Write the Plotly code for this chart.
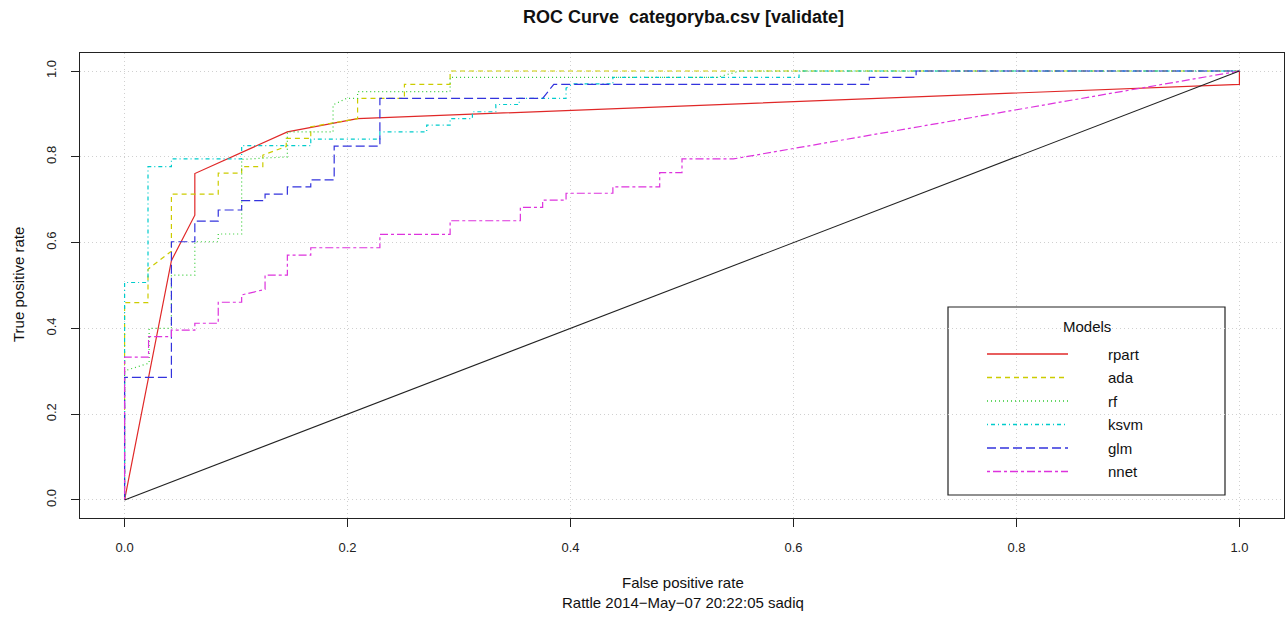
import plotly.graph_objects as go

# ---------------- data ----------------
models = ["rpart", "ada", "rf", "ksvm", "glm", "nnet"]
colors = ["#E02828", "#CCCC00", "#33CC33", "#00CCCC", "#3333DD", "#DD33DD"]
dashes = ["solid", "5px,4px", "1px,3px", "1px,3px,4px,3px", "9px,4px", "3px,3px,8px,3px"]

rpart_fpr = [0, 0.042, 0.063, 0.063, 0.146, 0.209, 1.0, 1.0]
rpart_tpr = [0, 0.558, 0.664, 0.761, 0.858, 0.889, 0.969, 1.0]

ada_fpr = [0, 0, 0.021, 0.021, 0.042, 0.042, 0.084, 0.084, 0.105, 0.105, 0.124, 0.124,
           0.145, 0.145, 0.167, 0.167, 0.209, 0.209, 0.251, 0.251, 0.292, 0.292, 1.0]
ada_tpr = [0, 0.46, 0.46, 0.538, 0.58, 0.713, 0.713, 0.762, 0.762, 0.777, 0.777, 0.804,
           0.824, 0.843, 0.843, 0.870, 0.889, 0.936, 0.936, 0.969, 0.969, 1.0, 1.0]

rf_fpr = [0, 0, 0.022, 0.022, 0.042, 0.042, 0.063, 0.063, 0.084, 0.084, 0.105, 0.105,
          0.146, 0.146, 0.187, 0.187, 0.199, 0.209, 0.209, 0.292, 0.292, 0.531, 0.552, 1.0]
rf_tpr = [0, 0.301, 0.319, 0.40, 0.40, 0.524, 0.524, 0.602, 0.602, 0.62, 0.62, 0.794,
          0.80, 0.858, 0.858, 0.921, 0.936, 0.936, 0.952, 0.952, 0.985, 0.985, 1.0, 1.0]

ksvm_fpr = [0, 0, 0.021, 0.021, 0.042, 0.042, 0.105, 0.105, 0.167, 0.167, 0.229, 0.229,
            0.271, 0.271, 0.292, 0.292, 0.312, 0.312, 0.333, 0.333, 0.354, 0.354, 0.396,
            0.396, 0.402, 0.438, 0.438, 0.605, 0.605, 1.0]
ksvm_tpr = [0, 0.507, 0.507, 0.777, 0.777, 0.795, 0.795, 0.826, 0.826, 0.841, 0.841, 0.858,
            0.858, 0.874, 0.874, 0.889, 0.889, 0.905, 0.905, 0.922, 0.922, 0.936, 0.936,
            0.96, 0.970, 0.970, 0.985, 0.985, 1.0, 1.0]

glm_fpr = [0, 0, 0.042, 0.042, 0.063, 0.063, 0.084, 0.084, 0.105, 0.105, 0.126, 0.126,
           0.146, 0.146, 0.167, 0.167, 0.188, 0.188, 0.229, 0.229, 0.375, 0.385, 0.668,
           0.668, 0.71, 0.71, 1.0]
glm_tpr = [0, 0.286, 0.286, 0.602, 0.602, 0.65, 0.65, 0.676, 0.676, 0.698, 0.698, 0.713,
           0.713, 0.730, 0.730, 0.746, 0.746, 0.825, 0.825, 0.936, 0.936, 0.969, 0.969,
           0.985, 0.985, 1.0, 1.0]

nnet_fpr = [0, 0, 0.0215, 0.0215, 0.042, 0.042, 0.063, 0.063, 0.084, 0.084, 0.105, 0.105,
            0.126, 0.126, 0.146, 0.146, 0.167, 0.167, 0.229, 0.229, 0.292, 0.292, 0.355,
            0.355, 0.375, 0.375, 0.396, 0.396, 0.438, 0.438, 0.48, 0.48, 0.5, 0.5, 0.546, 1.0]
nnet_tpr = [0, 0.333, 0.333, 0.381, 0.381, 0.396, 0.396, 0.412, 0.412, 0.461, 0.461, 0.478,
            0.491, 0.524, 0.524, 0.571, 0.571, 0.588, 0.588, 0.619, 0.619, 0.651, 0.651,
            0.682, 0.682, 0.699, 0.699, 0.715, 0.715, 0.730, 0.730, 0.763, 0.763, 0.795,
            0.795, 1.0]

diag_fpr = [0, 1]
diag_tpr = [0, 1]

tick_vals = [0.0, 0.2, 0.4, 0.6, 0.8, 1.0]
tick_text = ["0.0", "0.2", "0.4", "0.6", "0.8", "1.0"]

title_text = "ROC Curve  categoryba.csv [validate]"
x_title = "False positive rate"
sub_title = "Rattle 2014\u2212May\u221207 20:22:05 sadiq"
y_title = "True positive rate"
legend_title = "Models"

series = [(rpart_fpr, rpart_tpr), (ada_fpr, ada_tpr), (rf_fpr, rf_tpr),
          (ksvm_fpr, ksvm_tpr), (glm_fpr, glm_tpr), (nnet_fpr, nnet_tpr)]

# ---------------- figure ----------------
W, H = 1287, 618
L, R, T, B = 80, 1284, 53, 518
XR = [-0.04, 1.04]
YR = [-0.042, 1.042]
FONT = "Liberation Sans, Arial, sans-serif"


def px(xp):
    return (xp - L) / (R - L)


def py(yp):
    return (B - yp) / (B - T)


def dx(xp):
    return XR[0] + px(xp) * (XR[1] - XR[0])


def dy(yp):
    return YR[0] + py(yp) * (YR[1] - YR[0])


fig = go.Figure()
for name, col, dsh, (xs, ys) in zip(models, colors, dashes, series):
    fig.add_trace(go.Scatter(x=xs, y=ys, mode="lines", name=name,
                             line=dict(color=col, width=1.2, dash=dsh),
                             showlegend=False, hoverinfo="x+y+name"))
fig.add_trace(go.Scatter(x=diag_fpr, y=diag_tpr, mode="lines", showlegend=False,
                         line=dict(color="#222222", width=1.1), hoverinfo="skip"))

# legend samples (R-style legend drawn inside the plot)
row_y = [354, 377.5, 401, 424.5, 448, 471.5]
for name, col, dsh, yy in zip(models, colors, dashes, row_y):
    fig.add_trace(go.Scatter(x=[dx(987), dx(1068)], y=[dy(yy), dy(yy)], mode="lines",
                             line=dict(color=col, width=1.6, dash=dsh),
                             showlegend=False, hoverinfo="skip"))

axis_common = dict(
    tickvals=tick_vals, ticktext=tick_text, ticks="outside", ticklen=8,
    tickcolor="#222", tickwidth=1, showline=True, linecolor="#222", linewidth=1.2,
    mirror=True, showgrid=True, gridcolor="#D0D0D0", griddash="1px,3px", gridwidth=1,
    zeroline=False, tickfont=dict(family=FONT, size=13, color="#222"),
)

fig.update_layout(
    width=W, height=H,
    margin=dict(l=L, r=W - R, t=T, b=H - B),
    paper_bgcolor="white", plot_bgcolor="white",
    xaxis=dict(range=XR, ticklabelstandoff=9, **axis_common),
    yaxis=dict(range=YR, tickangle=-90, ticklabelstandoff=10, **axis_common),
    font=dict(family=FONT, color="#222"),
)

ann = []
ann.append(dict(text="<b>" + title_text + "</b>", x=px(683), y=py(17), xref="paper", yref="paper",
                showarrow=False, xanchor="center", yanchor="middle",
                font=dict(size=18, family=FONT, color="#111")))
ann.append(dict(text=x_title, x=px(683), y=py(583), xref="paper", yref="paper",
                showarrow=False, xanchor="center", yanchor="middle",
                font=dict(size=15, family=FONT, color="#111")))
ann.append(dict(text=sub_title, x=px(683), y=py(602), xref="paper", yref="paper",
                showarrow=False, xanchor="center", yanchor="middle",
                font=dict(size=15, family=FONT, color="#111")))
ann.append(dict(text=y_title, x=px(18), y=py(285), xref="paper", yref="paper",
                showarrow=False, xanchor="center", yanchor="middle", textangle=-90,
                font=dict(size=15, family=FONT, color="#111")))

shapes = [dict(type="rect", xref="paper", yref="paper",
               x0=px(948), x1=px(1225), y0=py(495), y1=py(307),
               line=dict(color="#222", width=1.2), fillcolor="white", layer="between")]
ann.append(dict(text=legend_title, x=px(1087), y=py(326), xref="paper", yref="paper",
                showarrow=False, xanchor="center", yanchor="middle",
                font=dict(size=15, family=FONT, color="#111")))
for name, yy in zip(models, row_y):
    ann.append(dict(text=name, x=px(1106), y=py(yy), xref="paper", yref="paper",
                    showarrow=False, xanchor="left", yanchor="middle",
                    font=dict(size=15, family=FONT, color="#111")))

fig.update_layout(annotations=ann, shapes=shapes)
fig.write_html("out.html")
